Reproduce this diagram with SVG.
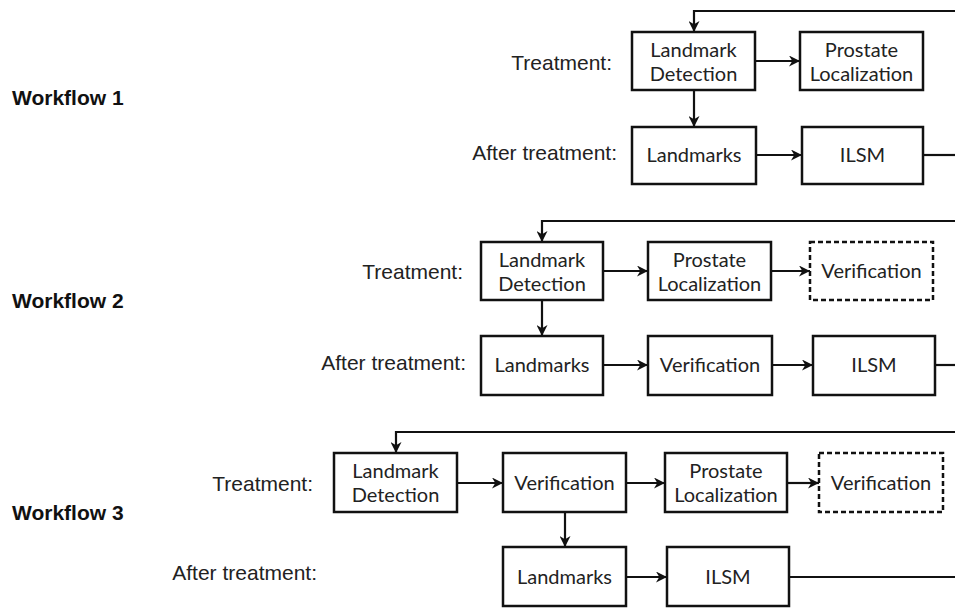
<svg xmlns="http://www.w3.org/2000/svg" width="955" height="608" viewBox="0 0 955 608">
<style>
.box{fill:#fff;stroke:#111;stroke-width:2.5}
.dash{fill:#fff;stroke:#111;stroke-width:2.5;stroke-dasharray:5 3}
.bt{font-family:Lato,"Open Sans",sans-serif;font-size:20px;fill:#222;text-anchor:middle}
.lbl{font-family:"Liberation Sans",Arial,sans-serif;font-size:21px;fill:#222;text-anchor:end}
.wf{font-family:"Liberation Sans",Arial,sans-serif;font-size:21px;font-weight:bold;fill:#111}
.c{fill:none;stroke:#111;stroke-width:2.2}
</style>
<defs>
<marker id="ah" viewBox="0 0 10 10" refX="10" refY="5" markerWidth="11" markerHeight="11" markerUnits="userSpaceOnUse" orient="auto">
<path d="M0,0 L10,5 L0,10 L3,5 z" fill="#111"/>
</marker>
</defs>
<rect width="955" height="608" fill="#fff"/>

<g id="labels">
<text class="wf" x="12" y="105">Workflow 1</text>
<text class="wf" x="12" y="308">Workflow 2</text>
<text class="wf" x="12" y="520">Workflow 3</text>
<text class="lbl" x="612" y="70">Treatment:</text>
<text class="lbl" x="617" y="160">After treatment:</text>
<text class="lbl" x="463" y="279">Treatment:</text>
<text class="lbl" x="466" y="370">After treatment:</text>
<text class="lbl" x="313" y="491">Treatment:</text>
<text class="lbl" x="317" y="580">After treatment:</text>
</g>

<g id="connectors">
<path class="c" d="M955,11 H694 V32" marker-end="url(#ah)"/>
<path class="c" d="M755,61 H800" marker-end="url(#ah)"/>
<path class="c" d="M694,90 V127" marker-end="url(#ah)"/>
<path class="c" d="M756,155 H802" marker-end="url(#ah)"/>
<path class="c" d="M923,155 H955"/>

<path class="c" d="M955,221 H542 V242" marker-end="url(#ah)"/>
<path class="c" d="M603,271 H648" marker-end="url(#ah)"/>
<path class="c" d="M771,271 H810" marker-end="url(#ah)"/>
<path class="c" d="M542,300 V336" marker-end="url(#ah)"/>
<path class="c" d="M603,365 H648" marker-end="url(#ah)"/>
<path class="c" d="M772,365 H813" marker-end="url(#ah)"/>
<path class="c" d="M935,365 H955"/>

<path class="c" d="M955,432 H396 V453" marker-end="url(#ah)"/>
<path class="c" d="M457,483 H503" marker-end="url(#ah)"/>
<path class="c" d="M626,483 H665" marker-end="url(#ah)"/>
<path class="c" d="M787,483 H819" marker-end="url(#ah)"/>
<path class="c" d="M565,512 V547" marker-end="url(#ah)"/>
<path class="c" d="M626,577 H667" marker-end="url(#ah)"/>
<path class="c" d="M789,577 H955"/>
</g>

<g id="w1-landmark-detection"><rect class="box" x="632" y="32" width="123" height="58"/><text class="bt" x="693.5" y="57">Landmark</text><text class="bt" x="693.5" y="81">Detection</text></g>
<g id="w1-prostate-localization"><rect class="box" x="800" y="32" width="123" height="58"/><text class="bt" x="861.5" y="57">Prostate</text><text class="bt" x="861.5" y="81">Localization</text></g>
<g id="w1-landmarks"><rect class="box" x="632" y="127" width="124" height="57"/><text class="bt" x="694" y="162">Landmarks</text></g>
<g id="w1-ilsm"><rect class="box" x="802" y="127" width="121" height="57"/><text class="bt" x="862.5" y="162">ILSM</text></g>

<g id="w2-landmark-detection"><rect class="box" x="481" y="242" width="122" height="58"/><text class="bt" x="542" y="267">Landmark</text><text class="bt" x="542" y="291">Detection</text></g>
<g id="w2-prostate-localization"><rect class="box" x="648" y="242" width="123" height="58"/><text class="bt" x="709.5" y="267">Prostate</text><text class="bt" x="709.5" y="291">Localization</text></g>
<g id="w2-verification-dashed"><rect class="dash" x="810" y="242" width="123" height="58"/><text class="bt" x="871.5" y="278">Verification</text></g>
<g id="w2-landmarks"><rect class="box" x="481" y="336" width="122" height="59"/><text class="bt" x="542" y="372">Landmarks</text></g>
<g id="w2-verification"><rect class="box" x="648" y="336" width="124" height="59"/><text class="bt" x="710" y="372">Verification</text></g>
<g id="w2-ilsm"><rect class="box" x="813" y="336" width="122" height="59"/><text class="bt" x="874" y="372">ILSM</text></g>

<g id="w3-landmark-detection"><rect class="box" x="334" y="453" width="123" height="59"/><text class="bt" x="395.5" y="478">Landmark</text><text class="bt" x="395.5" y="502">Detection</text></g>
<g id="w3-verification"><rect class="box" x="503" y="453" width="123" height="59"/><text class="bt" x="564.5" y="490">Verification</text></g>
<g id="w3-prostate-localization"><rect class="box" x="665" y="453" width="122" height="59"/><text class="bt" x="726" y="478">Prostate</text><text class="bt" x="726" y="502">Localization</text></g>
<g id="w3-verification-dashed"><rect class="dash" x="819" y="453" width="124" height="59"/><text class="bt" x="881" y="490">Verification</text></g>
<g id="w3-landmarks"><rect class="box" x="503" y="547" width="123" height="59"/><text class="bt" x="564.5" y="584">Landmarks</text></g>
<g id="w3-ilsm"><rect class="box" x="667" y="547" width="122" height="59"/><text class="bt" x="728" y="584">ILSM</text></g>
</svg>
